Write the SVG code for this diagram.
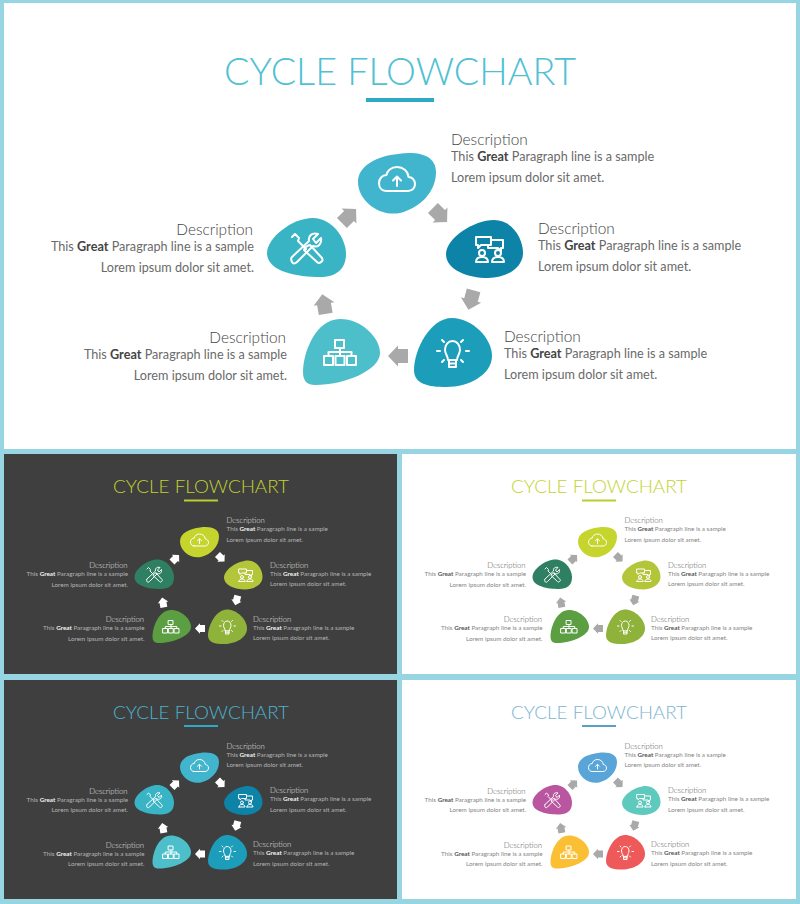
<svg xmlns="http://www.w3.org/2000/svg" width="800" height="904" viewBox="0 0 800 904">
<style>
text{font-family:"Lato","Open Sans","Liberation Sans",sans-serif}
.t{font-size:37px;font-weight:300;text-anchor:middle;font-family:"Lato","Liberation Sans",sans-serif}
.h{font-size:15.4px;font-weight:300}
.b{font-size:12.65px}
.e{text-anchor:end}
.g{font-weight:700}
.light .h{fill:#444}
.light .b{fill:#6a6a6a}
.light .g{fill:#444}
.mini .h{fill:#555}
.mini .b{fill:#858585}
.mini .g{fill:#555}
.dark .h{fill:#e0e0e0}
.dark .b{fill:#b4b4b4}
.dark .g{fill:#f2f2f2}
.light .arr{fill:#a9a9a9}
.dark .arr{fill:#fff}
.ic{fill:none;stroke:#fff;stroke-width:2;stroke-linecap:round;stroke-linejoin:round}
</style>
<defs>
<path id="b-top" d="M358 182C358 165 378 156 398 154C418 151 436 155 436 172C436 192 420 208 400 213C378 217 358 200 358 182Z"/>
<path id="b-right" d="M446 254C446 238 474 220 494 220C512 220 523 238 523 253C523 268 506 278 488 278C468 278 446 270 446 254Z"/>
<path id="b-bulb" d="M414 370C414 350 430 318 452 318C472 318 492 338 492 356C492 374 470 387 446 387C428 387 414 384 414 370Z"/>
<path id="b-org" d="M303 372C303 352 316 319 340 319C362 319 380 338 380 353C380 370 345 385 315 385C307 385 303 381 303 372Z"/>
<path id="b-tools" d="M267 253C267 238 292 218 313 218C332 218 346 238 346 254C346 270 335 277 320 277C298 277 267 272 267 253Z"/>
<g id="i-cloud" class="ic"><path d="M386 191H408C413 191 415 187 415 184C415 180 412 177 408.500 177C408 171 403 167 397 167C391 167 387 171 386.500 175C382 175 379 179 379 183C379 188 382 191 386 191Z"/><path d="M397 186V177M393 180.500L397 176.500L401 180.500"/></g>
<g id="i-meet" class="ic"><path d="M476 237H491V245H481L478 248V245H476Z"/><path d="M491 240H503V248H501V251L498 248H488V245"/><circle cx="482" cy="253" r="3"/><circle cx="498" cy="253" r="3"/><path d="M476 262C476 259 478 257 482 257C486 257 488 259 488 262H476ZM492 262C492 259 494 257 498 257C502 257 504 259 504 262H492Z"/></g>
<g id="i-bulb" class="ic"><path d="M448 360C448 356 445 354 445 350C445 345 448 341 452.500 341C457 341 460 345 460 350C460 354 457 356 457 360Z"/><path d="M449 360V367H456V360M449 363.500H456"/><path d="M437 351H440M466 351H469M442 340L444 342M463 340L461 342M442 362L444 360M463 362L461 360"/></g>
<g id="i-org" class="ic"><rect x="335" y="340" width="9" height="8"/><rect x="324" y="356" width="9" height="9"/><rect x="335.500" y="356" width="9" height="9"/><rect x="347" y="356" width="9" height="9"/><path d="M340 348V356M328.500 356V352H351.500V356"/></g>
<g id="i-tools" class="ic"><path d="M292 257L309 241C308 236 312 232 318 234L313 239L316 243L321 238C322 244 318 248 313 246L297 262C295 264 293 264 292 262C291 260 291 258 292 257Z"/><path d="M292 237L295 234L299 238L298 241L306 249M310 245L322 258C323 260 323 261 321 262C319 264 318 263 317 262L304 250C304 248 308 245 310 245Z"/></g>
<path id="arrow" d="M-10-7H0V-10.500L10 0L0 10.500V7H-10Z"/>
</defs>
<rect width="800" height="904" fill="#97d5e2"/>
<rect x="4" y="3" width="792" height="446" fill="#fff"/>
<rect x="4" y="454" width="393" height="220" fill="#3f3f3f"/>
<rect x="402" y="454" width="394" height="220" fill="#fff"/>
<rect x="4" y="680" width="393" height="219" fill="#3f3f3f"/>
<rect x="402" y="680" width="394" height="219" fill="#fff"/>

<g id="panel-main" class="light">
<text class="t" x="400" y="85" fill="#4fc1d2" textLength="352" lengthAdjust="spacingAndGlyphs">CYCLE FLOWCHART</text>
<rect x="366" y="98" width="68" height="4" fill="#2fa9c6"/>
<g id="connectors-main" class="arr"><use href="#arrow" transform="translate(349 216) rotate(-45)"/><use href="#arrow" transform="translate(440 215) rotate(45)"/><use href="#arrow" transform="translate(471 300) rotate(105)"/><use href="#arrow" transform="translate(398 356) rotate(180)"/><use href="#arrow" transform="translate(324 304) rotate(-100)"/></g>
<g id="main-top"><use href="#b-top" fill="#41b5cd"/><use href="#i-cloud"/><text class="h" x="451" y="145">Description</text><text class="b" x="451" y="161">This <tspan class="g">Great</tspan> Paragraph line is a sample</text><text class="b" x="451" y="182">Lorem ipsum dolor sit amet.</text></g>
<g id="main-right"><use href="#b-right" fill="#0c83a7"/><use href="#i-meet"/><text class="h" x="538" y="234">Description</text><text class="b" x="538" y="250">This <tspan class="g">Great</tspan> Paragraph line is a sample</text><text class="b" x="538" y="271">Lorem ipsum dolor sit amet.</text></g>
<g id="main-bulb"><use href="#b-bulb" fill="#1c9ebb"/><use href="#i-bulb"/><text class="h" x="504" y="342">Description</text><text class="b" x="504" y="358">This <tspan class="g">Great</tspan> Paragraph line is a sample</text><text class="b" x="504" y="379">Lorem ipsum dolor sit amet.</text></g>
<g id="main-org"><use href="#b-org" fill="#4cbfcb"/><use href="#i-org"/><text class="h e" x="286" y="343">Description</text><text class="b e" x="287" y="359">This <tspan class="g">Great</tspan> Paragraph line is a sample</text><text class="b e" x="287" y="380">Lorem ipsum dolor sit amet.</text></g>
<g id="main-tools"><use href="#b-tools" fill="#38b4c4"/><use href="#i-tools"/><text class="h e" x="253" y="235">Description</text><text class="b e" x="254" y="251">This <tspan class="g">Great</tspan> Paragraph line is a sample</text><text class="b e" x="254" y="272">Lorem ipsum dolor sit amet.</text></g>
</g>

<g id="panel-green-dark" class="dark" transform="translate(1 450.500) scale(.5)">
<text class="t" x="400" y="85" fill="#c3d32f" textLength="352" lengthAdjust="spacingAndGlyphs">CYCLE FLOWCHART</text>
<rect x="366" y="98" width="68" height="4" fill="#bccd2e"/>
<g id="connectors-green-dark" class="arr"><use href="#arrow" transform="translate(349 216) rotate(-45)"/><use href="#arrow" transform="translate(440 215) rotate(45)"/><use href="#arrow" transform="translate(471 300) rotate(105)"/><use href="#arrow" transform="translate(398 356) rotate(180)"/><use href="#arrow" transform="translate(324 304) rotate(-100)"/></g>
<g id="gd-top"><use href="#b-top" fill="#c5d52e"/><use href="#i-cloud"/><text class="h" x="451" y="145">Description</text><text class="b" x="451" y="161">This <tspan class="g">Great</tspan> Paragraph line is a sample</text><text class="b" x="451" y="182">Lorem ipsum dolor sit amet.</text></g>
<g id="gd-right"><use href="#b-right" fill="#b3c63a"/><use href="#i-meet"/><text class="h" x="538" y="234">Description</text><text class="b" x="538" y="250">This <tspan class="g">Great</tspan> Paragraph line is a sample</text><text class="b" x="538" y="271">Lorem ipsum dolor sit amet.</text></g>
<g id="gd-bulb"><use href="#b-bulb" fill="#8fb33a"/><use href="#i-bulb"/><text class="h" x="504" y="342">Description</text><text class="b" x="504" y="358">This <tspan class="g">Great</tspan> Paragraph line is a sample</text><text class="b" x="504" y="379">Lorem ipsum dolor sit amet.</text></g>
<g id="gd-org"><use href="#b-org" fill="#5c9e42"/><use href="#i-org"/><text class="h e" x="286" y="343">Description</text><text class="b e" x="287" y="359">This <tspan class="g">Great</tspan> Paragraph line is a sample</text><text class="b e" x="287" y="380">Lorem ipsum dolor sit amet.</text></g>
<g id="gd-tools"><use href="#b-tools" fill="#2f7f63"/><use href="#i-tools"/><text class="h e" x="253" y="235">Description</text><text class="b e" x="254" y="251">This <tspan class="g">Great</tspan> Paragraph line is a sample</text><text class="b e" x="254" y="272">Lorem ipsum dolor sit amet.</text></g>
</g>

<g id="panel-green-light" class="light mini" transform="translate(399 450.500) scale(.5)">
<text class="t" x="400" y="85" fill="#c3d32f" textLength="352" lengthAdjust="spacingAndGlyphs">CYCLE FLOWCHART</text>
<rect x="366" y="98" width="68" height="4" fill="#bccd2e"/>
<g id="connectors-green-light" class="arr"><use href="#arrow" transform="translate(349 216) rotate(-45)"/><use href="#arrow" transform="translate(440 215) rotate(45)"/><use href="#arrow" transform="translate(471 300) rotate(105)"/><use href="#arrow" transform="translate(398 356) rotate(180)"/><use href="#arrow" transform="translate(324 304) rotate(-100)"/></g>
<g id="gl-top"><use href="#b-top" fill="#c5d52e"/><use href="#i-cloud"/><text class="h" x="451" y="145">Description</text><text class="b" x="451" y="161">This <tspan class="g">Great</tspan> Paragraph line is a sample</text><text class="b" x="451" y="182">Lorem ipsum dolor sit amet.</text></g>
<g id="gl-right"><use href="#b-right" fill="#b3c63a"/><use href="#i-meet"/><text class="h" x="538" y="234">Description</text><text class="b" x="538" y="250">This <tspan class="g">Great</tspan> Paragraph line is a sample</text><text class="b" x="538" y="271">Lorem ipsum dolor sit amet.</text></g>
<g id="gl-bulb"><use href="#b-bulb" fill="#8fb33a"/><use href="#i-bulb"/><text class="h" x="504" y="342">Description</text><text class="b" x="504" y="358">This <tspan class="g">Great</tspan> Paragraph line is a sample</text><text class="b" x="504" y="379">Lorem ipsum dolor sit amet.</text></g>
<g id="gl-org"><use href="#b-org" fill="#5c9e42"/><use href="#i-org"/><text class="h e" x="286" y="343">Description</text><text class="b e" x="287" y="359">This <tspan class="g">Great</tspan> Paragraph line is a sample</text><text class="b e" x="287" y="380">Lorem ipsum dolor sit amet.</text></g>
<g id="gl-tools"><use href="#b-tools" fill="#2f7f63"/><use href="#i-tools"/><text class="h e" x="253" y="235">Description</text><text class="b e" x="254" y="251">This <tspan class="g">Great</tspan> Paragraph line is a sample</text><text class="b e" x="254" y="272">Lorem ipsum dolor sit amet.</text></g>
</g>

<g id="panel-blue-dark" class="dark" transform="translate(1 676) scale(.5)">
<text class="t" x="400" y="85" fill="#4ab5d0" textLength="352" lengthAdjust="spacingAndGlyphs">CYCLE FLOWCHART</text>
<rect x="366" y="98" width="68" height="4" fill="#2fa9c6"/>
<g id="connectors-blue-dark" class="arr"><use href="#arrow" transform="translate(349 216) rotate(-45)"/><use href="#arrow" transform="translate(440 215) rotate(45)"/><use href="#arrow" transform="translate(471 300) rotate(105)"/><use href="#arrow" transform="translate(398 356) rotate(180)"/><use href="#arrow" transform="translate(324 304) rotate(-100)"/></g>
<g id="bd-top"><use href="#b-top" fill="#41b5cd"/><use href="#i-cloud"/><text class="h" x="451" y="145">Description</text><text class="b" x="451" y="161">This <tspan class="g">Great</tspan> Paragraph line is a sample</text><text class="b" x="451" y="182">Lorem ipsum dolor sit amet.</text></g>
<g id="bd-right"><use href="#b-right" fill="#0c83a7"/><use href="#i-meet"/><text class="h" x="538" y="234">Description</text><text class="b" x="538" y="250">This <tspan class="g">Great</tspan> Paragraph line is a sample</text><text class="b" x="538" y="271">Lorem ipsum dolor sit amet.</text></g>
<g id="bd-bulb"><use href="#b-bulb" fill="#1c9ebb"/><use href="#i-bulb"/><text class="h" x="504" y="342">Description</text><text class="b" x="504" y="358">This <tspan class="g">Great</tspan> Paragraph line is a sample</text><text class="b" x="504" y="379">Lorem ipsum dolor sit amet.</text></g>
<g id="bd-org"><use href="#b-org" fill="#4cbfcb"/><use href="#i-org"/><text class="h e" x="286" y="343">Description</text><text class="b e" x="287" y="359">This <tspan class="g">Great</tspan> Paragraph line is a sample</text><text class="b e" x="287" y="380">Lorem ipsum dolor sit amet.</text></g>
<g id="bd-tools"><use href="#b-tools" fill="#38b4c4"/><use href="#i-tools"/><text class="h e" x="253" y="235">Description</text><text class="b e" x="254" y="251">This <tspan class="g">Great</tspan> Paragraph line is a sample</text><text class="b e" x="254" y="272">Lorem ipsum dolor sit amet.</text></g>
</g>

<g id="panel-multi-light" class="light mini" transform="translate(399 676) scale(.5)">
<text class="t" x="400" y="85" fill="#7db5d0" textLength="352" lengthAdjust="spacingAndGlyphs">CYCLE FLOWCHART</text>
<rect x="366" y="98" width="68" height="4" fill="#5a9fc4"/>
<g id="connectors-multi-light" class="arr"><use href="#arrow" transform="translate(349 216) rotate(-45)"/><use href="#arrow" transform="translate(440 215) rotate(45)"/><use href="#arrow" transform="translate(471 300) rotate(105)"/><use href="#arrow" transform="translate(398 356) rotate(180)"/><use href="#arrow" transform="translate(324 304) rotate(-100)"/></g>
<g id="ml-top"><use href="#b-top" fill="#5aa5d8"/><use href="#i-cloud"/><text class="h" x="451" y="145">Description</text><text class="b" x="451" y="161">This <tspan class="g">Great</tspan> Paragraph line is a sample</text><text class="b" x="451" y="182">Lorem ipsum dolor sit amet.</text></g>
<g id="ml-right"><use href="#b-right" fill="#5ec9bd"/><use href="#i-meet"/><text class="h" x="538" y="234">Description</text><text class="b" x="538" y="250">This <tspan class="g">Great</tspan> Paragraph line is a sample</text><text class="b" x="538" y="271">Lorem ipsum dolor sit amet.</text></g>
<g id="ml-bulb"><use href="#b-bulb" fill="#ee5a5a"/><use href="#i-bulb"/><text class="h" x="504" y="342">Description</text><text class="b" x="504" y="358">This <tspan class="g">Great</tspan> Paragraph line is a sample</text><text class="b" x="504" y="379">Lorem ipsum dolor sit amet.</text></g>
<g id="ml-org"><use href="#b-org" fill="#fbbf33"/><use href="#i-org"/><text class="h e" x="286" y="343">Description</text><text class="b e" x="287" y="359">This <tspan class="g">Great</tspan> Paragraph line is a sample</text><text class="b e" x="287" y="380">Lorem ipsum dolor sit amet.</text></g>
<g id="ml-tools"><use href="#b-tools" fill="#b9569f"/><use href="#i-tools"/><text class="h e" x="253" y="235">Description</text><text class="b e" x="254" y="251">This <tspan class="g">Great</tspan> Paragraph line is a sample</text><text class="b e" x="254" y="272">Lorem ipsum dolor sit amet.</text></g>
</g>
</svg>
